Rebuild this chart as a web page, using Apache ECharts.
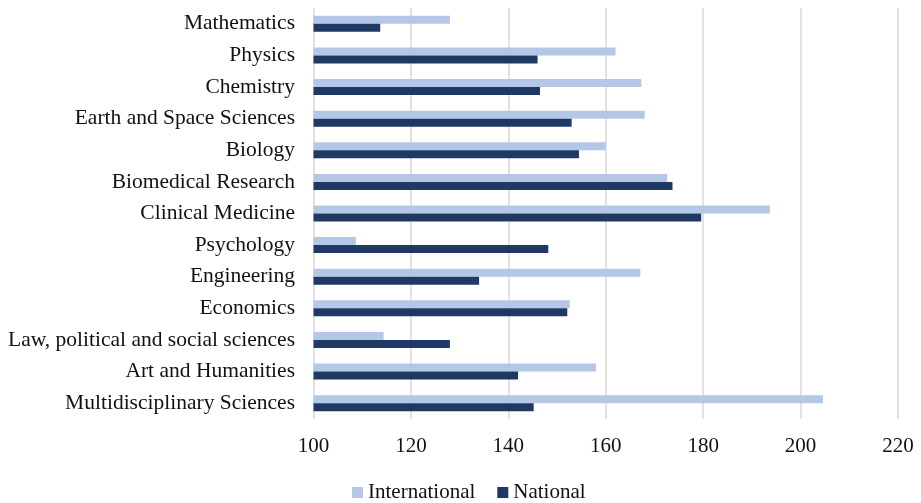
<!DOCTYPE html>
<html>
<head>
<meta charset="utf-8">
<script src="https://cdn.jsdelivr.net/npm/echarts@6/dist/echarts.min.js"></script>
<style>
  html, body { margin: 0; padding: 0; background: #fff; }
  #chart { width: 921px; height: 503px; }
</style>
</head>
<body>
<div id="chart"></div>
<script>
// Fields, top to bottom
const categories = [
  'Mathematics', 'Physics', 'Chemistry', 'Earth and Space Sciences', 'Biology',
  'Biomedical Research', 'Clinical Medicine', 'Psychology', 'Engineering',
  'Economics', 'Law, political and social sciences', 'Art and Humanities',
  'Multidisciplinary Sciences'
];
const international = [128.0, 162.0, 167.3, 168.0, 160.0, 172.6, 193.7, 108.7, 167.1, 152.6, 114.4, 158.0, 204.6];
const national =      [113.7, 146.0, 146.5, 153.0, 154.5, 173.7, 179.6, 148.2, 134.0, 152.1, 128.0, 142.0, 145.2];
const xTicks = [100, 120, 140, 160, 180, 200, 220];

const FONT = '"Liberation Serif", "Times New Roman", serif';
const TEXT = '#111';
const chart = echarts.init(document.getElementById('chart'));
chart.setOption({
  animation: false,
  grid: { left: 313.5, right: 23, top: 8, bottom: 84 },
  legend: {
    data: ['International', 'National'],
    top: 477,
    left: 347,
    icon: 'rect',
    itemWidth: 11,
    itemHeight: 11,
    itemGap: 22,
    textStyle: { fontFamily: FONT, fontSize: 21, color: TEXT }
  },
  xAxis: {
    type: 'value',
    min: xTicks[0],
    max: xTicks[xTicks.length - 1],
    interval: 20,
    axisLine: { show: false },
    axisTick: { show: false },
    splitLine: { lineStyle: { color: '#d9d9d9', width: 1.5 } },
    axisLabel: { fontFamily: FONT, fontSize: 21, color: TEXT, margin: 17 }
  },
  yAxis: {
    type: 'category',
    data: categories,
    inverse: true,
    axisLine: { show: false },
    axisTick: { show: false },
    axisLabel: { fontFamily: FONT, fontSize: 21.5, color: TEXT, margin: 18.5, padding: [4, 0, 0, 0] }
  },
  series: [
    {
      name: 'International', type: 'bar', data: international,
      barWidth: 8, barGap: '0%',
      itemStyle: { color: '#b4c7e7' }
    },
    {
      name: 'National', type: 'bar', data: national,
      barWidth: 8, barGap: '0%',
      itemStyle: { color: '#203864' }
    }
  ]
});
</script>
</body>
</html>
